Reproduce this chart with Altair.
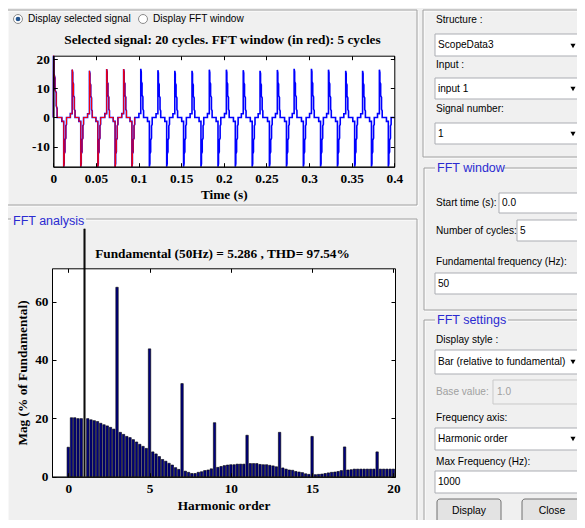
import altair as alt
import pandas as pd

# ---------------- chart values ----------------
# Selected signal: onset times (s) of the negative and positive pulses
neg_pulse_times = [0.0122, 0.0322, 0.0522, 0.0725, 0.0922, 0.1127, 0.1330, 0.1528,
                   0.1732, 0.1932, 0.2135, 0.2333, 0.2535, 0.2735, 0.2933, 0.3135,
                   0.3333, 0.3535, 0.3732, 0.3930]
neg_pulse_peak = -16.9
pos_pulse_times = [0.0222, 0.0424, 0.0626, 0.0825, 0.1026, 0.1227, 0.1425, 0.1627,
                   0.1830, 0.2030, 0.2228, 0.2425, 0.2628, 0.2825, 0.3028, 0.3228,
                   0.3430, 0.3628, 0.3825]
pos_pulse_peaks = [16.4, 16.0, 16.6, 16.6, 16.7, 16.2, 16.0, 16.0, 16.4, 16.4,
                   16.2, 16.0, 16.3, 16.7, 16.7, 16.4, 16.0, 16.0, 16.4]
# staircase shape of one pulse: time offset (ms) and fraction of the pulse peak
pulse_ms = [-2.2, -2.2, 0.0, 0.0, 0.6, 0.6, 1.5, 1.5, 2.5, 2.5, 3.3, 3.3]
pulse_frac = [0.0, 0.08, 0.08, 1.0, 0.94, 0.74, 0.70, 0.46, 0.42, 0.17, 0.14, 0.0]
# start-up transient at t = 0
start_t = [0.0, 0.0002, 0.0008, 0.0008, 0.0020, 0.0020, 0.0035, 0.0035, 0.0045, 0.0045]
start_v = [0.0, 21.2, 19.5, 15.0, 13.5, 9.5, 8.5, 4.0, 3.0, 0.0]
signal_end = 0.4
fft_window_end = 0.1

# FFT analysis: harmonic order (10 Hz bins) and magnitude in % of fundamental
harmonic_order = [0.0, 0.2, 0.4, 0.6, 0.8, 1.0, 1.2, 1.4, 1.6, 1.8,
                  2.0, 2.2, 2.4, 2.6, 2.8, 3.0, 3.2, 3.4, 3.6, 3.8,
                  4.0, 4.2, 4.4, 4.6, 4.8, 5.0, 5.2, 5.4, 5.6, 5.8,
                  6.0, 6.2, 6.4, 6.6, 6.8, 7.0, 7.2, 7.4, 7.6, 7.8,
                  8.0, 8.2, 8.4, 8.6, 8.8, 9.0, 9.2, 9.4, 9.6, 9.8,
                  10.0, 10.2, 10.4, 10.6, 10.8, 11.0, 11.2, 11.4, 11.6, 11.8,
                  12.0, 12.2, 12.4, 12.6, 12.8, 13.0, 13.2, 13.4, 13.6, 13.8,
                  14.0, 14.2, 14.4, 14.6, 14.8, 15.0, 15.2, 15.4, 15.6, 15.8,
                  16.0, 16.2, 16.4, 16.6, 16.8, 17.0, 17.2, 17.4, 17.6, 17.8,
                  18.0, 18.2, 18.4, 18.6, 18.8, 19.0, 19.2, 19.4, 19.6, 19.8,
                  20.0]
magnitude = [10.1, 20.2, 20.2, 19.9, 19.9, 100.0, 19.9, 19.5, 19.2, 18.9,
             18.3, 17.8, 17.4, 16.9, 16.3, 64.9, 15.2, 14.5, 13.8, 13.4,
             12.7, 11.9, 11.1, 10.4, 9.7, 43.8, 8.5, 7.8, 6.9, 5.9,
             5.3, 4.6, 4.0, 3.1, 2.5, 31.9, 1.9, 1.5, 1.1, 1.1,
             1.5, 1.7, 2.1, 2.3, 2.7, 18.5, 3.2, 3.5, 3.8, 4.0,
             4.1, 4.1, 4.3, 4.3, 4.3, 14.2, 4.5, 4.5, 4.5, 4.2,
             4.1, 4.1, 3.9, 3.7, 3.4, 15.2, 3.0, 2.6, 2.3, 2.2,
             1.8, 1.6, 1.4, 1.0, 0.8, 13.8, 0.7, 0.8, 0.9, 1.1,
             1.3, 1.5, 1.6, 1.8, 2.1, 10.2, 2.3, 2.4, 2.6, 2.6,
             2.6, 2.6, 2.6, 2.6, 2.6, 8.5, 2.6, 2.6, 2.6, 2.6,
             2.6]

sig_title = "Selected signal: 20 cycles. FFT window (in red): 5 cycles"
fft_title = "Fundamental (50Hz) = 5.286 , THD= 97.54%"
sig_xticks = [0, 0.05, 0.1, 0.15, 0.2, 0.25, 0.3, 0.35, 0.4]
sig_yticks = [-10, 0, 10, 20]
fft_xticks = [0, 5, 10, 15, 20]
fft_yticks = [0, 20, 40, 60]

# ---------------- build tables ----------------
pts = list(zip(start_t, start_v))
pulses = [(t, neg_pulse_peak) for t in neg_pulse_times] + list(zip(pos_pulse_times, pos_pulse_peaks))
pulses.sort()
for t0, peak in pulses:
    for m, f in zip(pulse_ms, pulse_frac):
        pts.append((t0 + m / 1000.0, peak * f))
pts.append((signal_end, 0.0))
sig = pd.DataFrame(pts, columns=["t", "v"])
sig["i"] = range(len(sig))
sig_red = sig[sig["t"] <= fft_window_end + 1e-9]

fft = pd.DataFrame({"h": harmonic_order, "mag": magnitude})
fft_fund = fft[fft["mag"] >= 99]
fft_rest = fft[fft["mag"] < 99]

# ---------------- layout (pixels of the view, page origin at 8,8) ----------------
W, H = 569, 512
SERIF = "Liberation Serif"
SANS = "Liberation Sans"
FS = 13.3

sig_xdom, sig_ydom = [0, 0.4], [-16.9, 21.2]
sig_left, sig_right, sig_top, sig_bot = 45.3, 386.3, 47.7, 158.7
fft_xdom, fft_ydom = [-1, 20.1], [0, 71.4]
fft_left, fft_right, fft_top, fft_bot = 44.0, 387.0, 260.3, 468.7

sx = alt.Scale(domain=sig_xdom, range=[sig_left, sig_right], nice=False, zero=False, padding=0)
sy = alt.Scale(domain=sig_ydom, range=[sig_bot, sig_top], nice=False, zero=False, padding=0)
fx = alt.Scale(domain=fft_xdom, range=[fft_left, fft_right], nice=False, zero=False, padding=0)
fy = alt.Scale(domain=fft_ydom, range=[fft_bot, fft_top], nice=False, zero=False, padding=0)
gx = alt.Scale(domain=[8, 8 + W], range=[0, W], nice=False, zero=False, padding=0)
gy = alt.Scale(domain=[8, 8 + H], range=[0, H], nice=False, zero=False, padding=0)


def ax(orient, offset, values, labels=False, title=None, **kw):
    d = dict(orient=orient, offset=offset, values=values, grid=False, zindex=1,
             domain=True, domainColor="black", domainWidth=1,
             ticks=not labels, tickSize=0 if labels else 4, tickColor="black", tickWidth=1,
             labels=labels, labelOverlap=False, labelFlush=False, labelFont=SERIF,
             labelFontSize=FS, labelFontWeight="bold", labelColor="black",
             labelExpr="'' + datum.value",
             titleFont=SERIF, titleFontSize=FS, titleFontWeight="bold", titleColor="black")
    d["title"] = title
    d.update(kw)
    return alt.Axis(**d)


# --- signal plot ---
sig_box = pd.DataFrame({"x0": [sig_xdom[0]], "x1": [sig_xdom[1]], "y0": [sig_ydom[0]], "y1": [sig_ydom[1]]})
sig_bg = alt.Chart(sig_box).mark_rect(fill="white").encode(
    x=alt.X("x0:Q", scale=sx, axis=ax("top", -sig_bot, sig_xticks)),
    x2="x1:Q",
    y=alt.Y("y0:Q", scale=sy, axis=ax("right", sig_left - W, sig_yticks)),
    y2="y1:Q",
)
sig_blue = alt.Chart(sig).mark_line(color="#0000ff", strokeWidth=1.6).encode(
    x=alt.X("t:Q", scale=sx, axis=ax("bottom", sig_bot - H, sig_xticks, labels=True,
                                     title="Time (s)", labelPadding=5, titlePadding=2)),
    y=alt.Y("v:Q", scale=sy, axis=ax("left", -sig_left, sig_yticks, labels=True, labelPadding=4)),
    order="i:Q",
)
sig_redl = alt.Chart(sig_red).mark_line(color="#ff0000", strokeWidth=1.0).encode(
    x=alt.X("t:Q", scale=sx, axis=ax("bottom", sig_top - H, sig_xticks)),
    y=alt.Y("v:Q", scale=sy, axis=ax("left", -sig_right, sig_yticks)),
    order="i:Q",
)

# --- FFT plot ---
fft_box = pd.DataFrame({"x0": [fft_xdom[0]], "x1": [fft_xdom[1]], "y0": [fft_ydom[0]], "y1": [fft_ydom[1]]})
fft_bg = alt.Chart(fft_box).mark_rect(fill="white").encode(
    x=alt.X("x0:Q", scale=fx, axis=ax("top", -fft_bot, fft_xticks)),
    x2="x1:Q",
    y=alt.Y("y0:Q", scale=fy, axis=ax("right", fft_left - W, fft_yticks)),
    y2="y1:Q",
)
fft_bars = alt.Chart(fft_rest).mark_bar(size=2.4, fill="#000080", stroke="black", strokeWidth=0.6).encode(
    x=alt.X("h:Q", scale=fx, axis=ax("bottom", fft_bot - H, fft_xticks, labels=True,
                                     title="Harmonic order", labelPadding=5, titlePadding=3)),
    y=alt.Y("mag:Q", scale=fy, axis=ax("left", -fft_left, fft_yticks, labels=True,
                                       title="Mag (% of Fundamental)", labelPadding=4, titlePadding=5)),
)
# fundamental bar: drawn past the plot top, cut where the panel border is
fft_fundbar = alt.Chart(fft_fund).transform_calculate(
    shown="min(datum.mag, 84.9)"
).mark_bar(size=1.6, fill="#101010", stroke="black", strokeWidth=0.4, clip=False).encode(
    x=alt.X("h:Q", scale=fx, axis=ax("bottom", fft_top - H, fft_xticks)),
    y=alt.Y("shown:Q", scale=fy, axis=ax("left", -fft_right, fft_yticks)),
)

# ---------------- GUI frame (page pixel coordinates) ----------------
def gxy():
    return dict(x=alt.X("x:Q", scale=gx, axis=None), y=alt.Y("y:Q", scale=gy, axis=None))


panels = pd.DataFrame({"x": [7, 7, 423, 424, 424], "x2": [417, 417, 600, 600, 600],
                       "y": [10, 219, 10, 168, 320], "y2": [205, 526, 157, 310, 540]})
panels_hi = panels + 1
panel_titles = pd.DataFrame({"text": ["FFT analysis", "FFT window", "FFT settings"],
                             "x": [13, 437, 437], "y": [221, 168, 320],
                             "bx": [11, 435, 435], "bx2": [86, 503, 508]})
labels = pd.DataFrame({
    "text": ["Display selected signal", "Display FFT window", "Structure :", "Input :",
             "Signal number:", "Start time (s):", "Number of cycles:",
             "Fundamental frequency (Hz):", "Display style :", "Frequency axis:",
             "Max Frequency (Hz):",
             "ScopeData3", "input 1", "1", "0.0", "5", "50",
             "Bar (relative to fundamental)", "Harmonic order", "1000"],
    "x": [28, 153, 436, 436, 436, 436, 436, 436, 436, 436, 436,
          438, 438, 438, 502, 520, 438, 438, 438, 438],
    "y": [19, 19, 20, 65, 109, 203, 231, 262, 340, 418, 462,
          45, 89, 134, 203, 231, 284, 362, 439, 482]})
gray_labels = pd.DataFrame({"text": ["Base value:", "1.0"], "x": [436, 497], "y": [392, 392]})
boxes = pd.DataFrame({"x": [435, 435, 435, 499, 517, 435, 435, 435, 435],
                      "x2": [600, 600, 600, 600, 600, 600, 600, 600, 600],
                      "y": [34, 78, 123, 193, 220, 273, 350, 428, 471],
                      "y2": [56, 99, 144, 213, 241, 294, 374, 450, 493]})
gray_box = pd.DataFrame({"x": [493], "x2": [600], "y": [380], "y2": [404]})
arrows = pd.DataFrame({"x": [573, 573, 573, 573, 573], "y": [46, 89, 134, 362, 439]})
radios = pd.DataFrame({"x": [18, 143], "y": [19, 19]})
radio_on = pd.DataFrame({"x": [18], "y": [19]})
buttons = pd.DataFrame({"x": [437, 522], "x2": [501, 600], "y": [499, 499], "y2": [540, 540],
                        "text": ["Display", "Close"], "tx": [469, 552], "ty": [511, 511]})
titles = pd.DataFrame({"text": [sig_title, fft_title], "x": [222.5, 222.5], "y": [40, 254]})

g_panel_hi = alt.Chart(panels_hi).mark_rect(fillOpacity=0, stroke="white", strokeWidth=1).encode(
    **gxy(), x2="x2:Q", y2="y2:Q")
g_panel = alt.Chart(panels).mark_rect(fillOpacity=0, stroke="#a0a0a0", strokeWidth=1).encode(
    **gxy(), x2="x2:Q", y2="y2:Q")
g_title_bg = alt.Chart(panel_titles).transform_calculate(y0="datum.y - 6", y1="datum.y + 6").mark_rect(
    fill="#f0f0f0").encode(x=alt.X("bx:Q", scale=gx, axis=None), x2="bx2:Q",
                           y=alt.Y("y0:Q", scale=gy, axis=None), y2="y1:Q")
g_title = alt.Chart(panel_titles).mark_text(align="left", baseline="middle", font=SANS,
                                            fontSize=12.5, color="#2b2bd0").encode(**gxy(), text="text:N")
g_boxes = alt.Chart(boxes).mark_rect(fill="white", stroke="#abadb3", strokeWidth=1).encode(
    **gxy(), x2="x2:Q", y2="y2:Q")
g_gray_box = alt.Chart(gray_box).mark_rect(fill="#f0f0f0", stroke="#c9c9c9", strokeWidth=1).encode(
    **gxy(), x2="x2:Q", y2="y2:Q")
g_labels = alt.Chart(labels).mark_text(align="left", baseline="middle", font=SANS,
                                       fontSize=10.1, color="black").encode(**gxy(), text="text:N")
g_gray = alt.Chart(gray_labels).mark_text(align="left", baseline="middle", font=SANS,
                                          fontSize=10.1, color="#a0a0a0").encode(**gxy(), text="text:N")
g_arrows = alt.Chart(arrows).mark_point(shape="triangle-down", size=26, filled=True,
                                        color="black", opacity=1).encode(**gxy())
g_radios = alt.Chart(radios).mark_point(shape="circle", size=80, filled=True, fill="white",
                                        stroke="#8a8a8a", strokeWidth=1, opacity=1).encode(**gxy())
g_radio_on = alt.Chart(radio_on).mark_point(shape="circle", size=22, filled=True,
                                            color="#24558f", opacity=1).encode(**gxy())
g_buttons = alt.Chart(buttons).mark_rect(fill="#e3e3e3", stroke="#707070", strokeWidth=1,
                                         cornerRadius=3).encode(**gxy(), x2="x2:Q", y2="y2:Q")
g_button_text = alt.Chart(buttons).mark_text(align="center", baseline="middle", font=SANS,
                                             fontSize=10.4, color="black").encode(
    x=alt.X("tx:Q", scale=gx, axis=None), y=alt.Y("ty:Q", scale=gy, axis=None), text="text:N")
g_titles = alt.Chart(titles).mark_text(align="center", baseline="middle", font=SERIF,
                                       fontSize=FS, fontWeight="bold", color="black").encode(
    **gxy(), text="text:N")

chart = alt.layer(
    g_panel_hi, g_panel, g_title_bg, g_title, g_boxes, g_gray_box, g_labels, g_gray,
    g_arrows, g_radios, g_radio_on, g_buttons, g_button_text, g_titles,
    sig_bg, sig_blue, sig_redl,
    fft_bg, fft_bars, fft_fundbar,
).resolve_scale(x="independent", y="independent").resolve_axis(
    x="independent", y="independent"
).properties(
    width=W, height=H, padding=0, autosize=alt.AutoSizeParams(type="none"),
    background="#f0f0f0",
).configure_view(stroke=None)

chart.save("out.html", embed_options={"renderer": "svg", "actions": False})
